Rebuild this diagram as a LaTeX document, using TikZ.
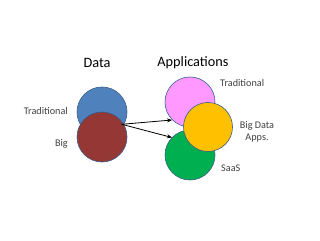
\documentclass[tikz,border=0pt]{standalone}
\usepackage{fontspec}
\setmainfont{Carlito}
\usetikzlibrary{arrows.meta}
\definecolor{cblue}{HTML}{4F81BD}
\definecolor{cred}{HTML}{953735}
\definecolor{cpink}{HTML}{FF99FF}
\definecolor{cyellow}{HTML}{FFC000}
\definecolor{cgreen}{HTML}{00B050}
\definecolor{cedge}{HTML}{385D8A}
\definecolor{ctext}{HTML}{404040}
\tikzset{
  blob/.style={circle, draw=cedge, line width=0.6pt, minimum size=50pt, inner sep=0pt},
  title/.style={font=\fontsize{14.3}{16}\selectfont, text=black, inner sep=0pt},
  lbl/.style={font=\fontsize{10.2}{12}\selectfont, text=ctext, inner sep=0pt, align=center},
  conn/.style={draw=black, line width=0.8pt, -{Stealth[length=5pt,width=4pt]}}
}
\begin{document}
\begin{tikzpicture}[x=1pt,y=-1pt]
\useasboundingbox[fill=white] (0,0) rectangle (320,240);
\node[title] (tdata) at (97,63) {Data};
\node[title] (tapps) at (193,63) {Applications};
\node[blob, fill=cblue] (blue) at (102,112) {};
\node[blob, fill=cred] (red) at (102,137) {};
\node[blob, fill=cpink] (pink) at (190,102) {};
\node[blob, fill=cgreen] (green) at (190,155) {};
\node[blob, fill=cyellow, minimum size=49pt] (yellow) at (208,127) {};
\node[lbl, anchor=east] (ltrad) at (68,111) {Traditional};
\node[lbl, anchor=east] (lbig) at (68,144) {Big};
\node[lbl, anchor=west] (latrad) at (220,83) {Traditional};
\node[lbl] (labig) at (257,132) {Big Data\\Apps.};
\node[lbl, anchor=west] (lsaas) at (221,168) {SaaS};
\coordinate (src) at (121.7,124.3);
\coordinate (e1) at (172,120);
\coordinate (e2) at (172,137.5);
\draw[conn] (src) -- (e1);
\draw[conn] (src) -- (e2);
\end{tikzpicture}
\end{document}
